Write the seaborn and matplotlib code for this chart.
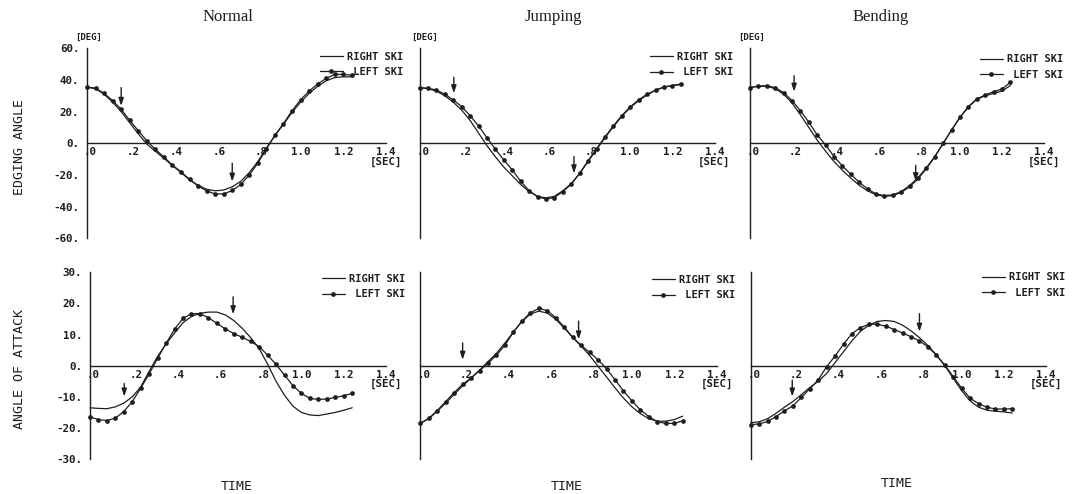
import numpy as np
import pandas as pd
import matplotlib
matplotlib.use("Agg")
import matplotlib.pyplot as plt
import seaborn as sns
from matplotlib.transforms import ScaledTranslation

# ---------------- data ----------------
conditions = ["Normal", "Jumping", "Bending"]
row_labels = ["EDGING ANGLE", "ANGLE OF ATTACK"]
series_labels = ["RIGHT SKI", " LEFT SKI"]
time_sec = np.round(np.arange(32) * 0.04, 2)

x_ticks = [0.0, 0.2, 0.4, 0.6, 0.8, 1.0, 1.2, 1.4]
x_tick_labels = [".0", ".2", ".4", ".6", ".8", "1.0", "1.2", "1.4\n[SEC]"]
edge_ticks = [-60, -40, -20, 0, 20, 40, 60]
edge_tick_labels = ["-60.", "-40.", "-20.", "0.", "20.", "40.", "60."]
aoa_ticks = [-30, -20, -10, 0, 10, 20, 30]
aoa_tick_labels = ["-30.", "-20.", "-10.", "0.", "10.", "20.", "30."]

edge_normal_right = [35.5, 34.5, 31.0, 26.0, 20.0, 13.0, 6.0, -0.5, -5.0, -9.5, -14.0, -18.5, -23.0, -26.5, -29.0, -30.0,
                     -29.5, -27.5, -24.0, -18.5, -11.5, -3.0, 5.0, 12.0, 19.5, 26.0, 31.5, 36.0, 39.5, 41.5, 42.0, 42.0]
edge_normal_left = [35.5, 34.8, 31.5, 27.0, 21.5, 14.5, 8.0, 1.5, -3.8, -8.6, -13.8, -18.0, -22.7, -27.0, -30.0, -32.0,
                    -32.0, -29.8, -26.0, -20.0, -12.5, -3.5, 5.0, 12.5, 20.5, 27.5, 33.0, 37.5, 41.0, 43.5, 43.5, 43.0]
aoa_normal_right = [-13.5, -13.7, -13.8, -13.2, -12.0, -10.0, -6.8, -1.8, 3.0, 7.0, 10.5, 13.8, 15.8, 16.8, 17.2, 17.2,
                    16.3, 14.5, 12.0, 9.0, 5.5, 0.5, -5.0, -9.5, -13.0, -15.0, -15.8, -16.0, -15.5, -15.0, -14.3, -13.5]
aoa_normal_left = [-16.4, -17.3, -17.6, -16.8, -14.7, -11.5, -7.2, -2.6, 2.4, 7.2, 11.7, 15.2, 16.7, 16.7, 15.4, 13.6,
                   11.8, 10.3, 9.1, 7.8, 6.1, 3.4, 0.4, -3.0, -6.4, -8.9, -10.5, -10.8, -10.7, -10.2, -9.6, -8.9]

edge_jump_right = [35.2, 34.5, 33.0, 30.0, 26.0, 21.0, 14.5, 6.5, -1.5, -8.5, -15.0, -20.5, -26.0, -30.5, -33.5, -34.5,
                   -33.5, -30.0, -25.5, -19.0, -11.5, -4.0, 3.5, 10.5, 17.0, 22.5, 27.0, 30.5, 33.5, 35.5, 36.5, 37.0]
edge_jump_left = [35.2, 34.7, 33.7, 31.0, 27.4, 23.2, 17.5, 11.0, 3.6, -3.8, -10.5, -16.8, -24.0, -29.9, -33.7, -35.2,
                  -34.3, -30.5, -25.9, -19.0, -11.0, -3.5, 4.0, 11.0, 17.5, 23.0, 27.5, 31.0, 33.5, 35.5, 36.5, 37.5]
aoa_jump_right = [-18.5, -17.0, -14.6, -12.0, -9.2, -6.5, -4.0, -1.4, 1.3, 4.0, 7.3, 10.8, 14.2, 16.6, 17.5, 16.9,
                  14.9, 12.1, 9.1, 6.3, 3.3, -0.2, -3.6, -7.1, -10.4, -13.2, -15.4, -17.0, -17.8, -17.8, -17.3, -16.2]
aoa_jump_left = [-18.5, -16.9, -14.4, -11.5, -8.6, -6.0, -3.9, -1.6, 0.8, 3.4, 6.6, 10.8, 14.3, 17.0, 18.4, 17.7,
                 15.4, 12.4, 9.1, 6.5, 4.3, 1.9, -1.0, -4.5, -8.1, -11.3, -14.2, -16.3, -18.0, -18.5, -18.5, -17.7]

edge_bend_right = [35.2, 36.0, 36.0, 34.5, 31.0, 25.5, 18.0, 10.0, 2.0, -5.0, -11.5, -17.0, -22.0, -26.5, -30.0, -32.5,
                   -33.5, -33.0, -31.0, -27.5, -22.5, -16.0, -8.5, 0.0, 8.4, 16.4, 23.0, 27.8, 30.0, 31.5, 33.0, 36.5]
edge_bend_left = [35.2, 36.2, 36.4, 35.2, 32.0, 27.0, 20.6, 13.3, 5.3, -1.0, -8.4, -14.3, -19.6, -24.6, -28.8, -32.0,
                  -33.0, -32.6, -30.5, -26.7, -21.7, -15.4, -8.4, 0.0, 8.4, 16.4, 23.2, 28.0, 30.5, 32.6, 34.3, 38.5]
aoa_bend_right = [-18.3, -18.0, -17.0, -15.3, -13.3, -11.5, -9.3, -7.0, -5.0, -2.5, 1.0, 4.5, 8.0, 11.0, 13.0, 14.2,
                  14.5, 14.2, 13.0, 11.2, 9.0, 6.5, 3.5, 0.0, -4.0, -8.0, -11.3, -13.3, -14.3, -14.6, -14.8, -15.2]
aoa_bend_left = [-18.9, -18.7, -17.9, -16.3, -14.5, -12.9, -10.2, -7.4, -4.6, -0.3, 3.1, 6.9, 10.3, 12.2, 13.3, 13.3,
                 12.7, 11.6, 10.5, 9.3, 7.9, 6.1, 3.4, 0.2, -3.5, -7.2, -10.4, -12.2, -13.3, -13.9, -13.9, -13.8]

# arrows: time, tail value, tip value  (row 0 = edging, row 1 = attack)
edge_arrow_time = [[0.16, 0.68], [0.163, 0.733], [0.21, 0.789]]
edge_arrow_tail = [[35.2, -12.6], [41.7, -8.4], [42.7, -14.0]]
edge_arrow_tip = [[23.6, -24.2], [31.6, -19.0], [32.6, -24.0]]
aoa_arrow_time = [[0.162, 0.677], [0.2, 0.748], [0.197, 0.8]]
aoa_arrow_tail = [[-5.7, 22.1], [7.3, 14.3], [-4.6, 16.7]]
aoa_arrow_tip = [[-9.9, 16.5], [1.9, 8.4], [-9.9, 10.9]]

right_series = [[edge_normal_right, edge_jump_right, edge_bend_right],
                [aoa_normal_right, aoa_jump_right, aoa_bend_right]]
left_series = [[edge_normal_left, edge_jump_left, edge_bend_left],
               [aoa_normal_left, aoa_jump_left, aoa_bend_left]]

# ---------------- style ----------------
sns.set_style("white")
plt.rcParams["font.family"] = ["DejaVu Sans Mono"]
ink = "#1e1e1e"
mono = dict(family=["DejaVu Sans Mono"], color=ink)

W, H = 1072, 494
fig = plt.figure(figsize=(W / 100, H / 100), dpi=100)

# axes boxes in pixels: left, top, right, bottom
boxes = [[(87, 48.3, 386, 238.3), (419.5, 48.3, 714.5, 238.3), (750, 48.3, 1044, 238.3)],
         [(90, 272.2, 386, 459.2), (420.3, 272.2, 716.6, 459.2), (750.7, 272.2, 1046, 459.2)]]
legend_pos = [[(320, 51.5), (650, 52), (980, 54.5)],
              [(321.7, 274), (651.7, 275), (981.7, 272.5)]]

tick_fs = 7.8
legend_fs = 7.5
for r in range(2):
    for c in range(3):
        l, t, rr, b = boxes[r][c]
        ax = fig.add_axes([l / W, 1 - b / H, (rr - l) / W, (b - t) / H])
        ax.set_facecolor("none")
        for sp in ["top", "right"]:
            ax.spines[sp].set_visible(False)
        ax.spines["left"].set_position(("data", 0))
        ax.spines["bottom"].set_position(("data", 0))
        for sp in ["left", "bottom"]:
            ax.spines[sp].set_color(ink)
            ax.spines[sp].set_linewidth(1.0)

        df = pd.DataFrame({"time": time_sec, "right": right_series[r][c], "left": left_series[r][c]})
        sns.lineplot(data=df, x="time", y="right", ax=ax, color=ink, lw=0.9, clip_on=False)
        sns.lineplot(data=df, x="time", y="left", ax=ax, color=ink, lw=0.9, marker="o",
                     markersize=3.4, markeredgewidth=0, clip_on=False)
        ax.set_xlim(0, 1.4)
        if r == 0:
            ax.set_ylim(-60, 60)
            ax.set_yticks(edge_ticks)
            ylabels = edge_tick_labels
            at, atl, atp = edge_arrow_time[c], edge_arrow_tail[c], edge_arrow_tip[c]
        else:
            ax.set_ylim(-30, 30)
            ax.set_yticks(aoa_ticks)
            ylabels = aoa_tick_labels
            at, atl, atp = aoa_arrow_time[c], aoa_arrow_tail[c], aoa_arrow_tip[c]
        ax.set_xticks(x_ticks)
        ax.set_xlabel("")
        ax.set_ylabel("")
        ax.tick_params(axis="both", direction="in", length=2.5, width=0.9, color=ink)
        ax.tick_params(axis="y", pad=5.5)
        ax.tick_params(axis="x", pad=3)
        if c == 0:
            ax.set_yticklabels(ylabels, fontsize=tick_fs, fontweight="bold", **mono)
        else:
            ax.set_yticklabels([])
        ax.set_xticklabels(x_tick_labels, fontsize=tick_fs, fontweight="bold", linespacing=0.9, **mono)
        # decimal point of ".x" labels on the tick
        shift = ScaledTranslation(-3.0 / 100, 0, fig.dpi_scale_trans)
        for lab in ax.get_xticklabels():
            if lab.get_text().startswith("."):
                lab.set_horizontalalignment("left")
                lab.set_transform(lab.get_transform() + shift)
            lab.set_verticalalignment("top")
        # arrows
        for tt, a0, a1 in zip(at, atl, atp):
            ax.annotate("", xy=(tt, a1), xytext=(tt, a0),
                        arrowprops=dict(arrowstyle="-|>,head_length=0.45,head_width=0.15",
                                        color=ink, lw=1.0, shrinkA=0, shrinkB=0, mutation_scale=10))
        # legend
        lx, ly = legend_pos[r][c]
        ax.legend(handles=[ax.lines[0], ax.lines[1]], labels=series_labels, loc="upper left",
                  bbox_to_anchor=(lx / W, 1 - ly / H), bbox_transform=fig.transFigure,
                  frameon=False, borderpad=0, borderaxespad=0, handlelength=2.2, handletextpad=0.4,
                  labelspacing=0.5, numpoints=1,
                  prop=dict(family="DejaVu Sans Mono", size=legend_fs, weight="bold"))
        for txt in ax.get_legend().get_texts():
            txt.set_color(ink)
        if r == 0:
            fig.text([88.7, 425, 752][c] / W, 1 - 37 / H, "[DEG]", ha="center", va="center",
                     fontsize=6.5, fontweight="bold", **mono)

# column titles
for name, xc in zip(conditions, [228, 553, 881]):
    fig.text(xc / W, 1 - 17 / H, name, ha="center", va="center", fontsize=12,
             family=["Liberation Serif"], color=ink)
# row labels
for name, yc in zip(row_labels, [147, 369]):
    fig.text(20 / W, 1 - yc / H, name, ha="center", va="center", rotation=90, fontsize=9.5, **mono)
for xc, yc in zip([237, 567, 897], [486.5, 486.5, 483]):
    fig.text(xc / W, 1 - yc / H, "TIME", ha="center", va="center", fontsize=9.5, **mono)

fig.savefig("out.png", dpi=100, facecolor="white")
